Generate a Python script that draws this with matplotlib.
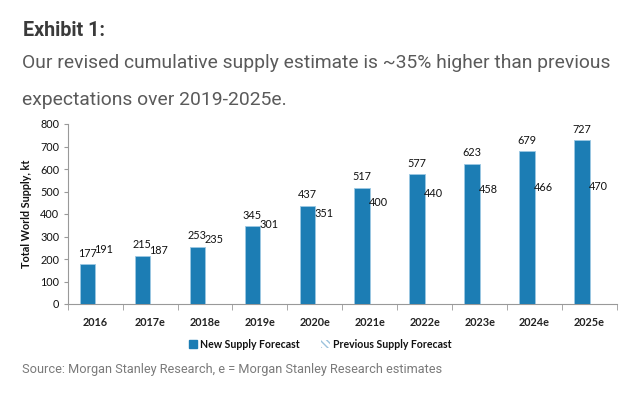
import matplotlib
matplotlib.use("Agg")
import matplotlib.pyplot as plt
from matplotlib.patches import Patch
import numpy as np

categories = ["2016", "2017e", "2018e", "2019e", "2020e", "2021e", "2022e", "2023e", "2024e", "2025e"]
new_supply = [177, 215, 253, 345, 437, 517, 577, 623, 679, 727]
prev_supply = [191, 187, 235, 301, 351, 400, 440, 458, 466, 470]
yticks = [0, 100, 200, 300, 400, 500, 600, 700, 800]

BLUE = "#1C7DB4"
chart_font = ["Lato", "DejaVu Sans"]

fig = plt.figure(figsize=(6.29, 3.98), dpi=100)
fig.patch.set_facecolor("white")

fig.text(23/629, 1-31/398, "Exhibit 1:", family="Roboto", fontweight="bold",
         fontsize=14.2, color="#3a3a3a", va="center", ha="left")
fig.text(22/629, 1-63/398, "Our revised cumulative supply estimate is ~35% higher than previous",
         family="Roboto", fontweight="normal", fontsize=13.9, color="#5a5a5a", va="center", ha="left")
fig.text(22/629, 1-100/398, "expectations over 2019-2025e.",
         family="Roboto", fontweight="normal", fontsize=13.9, color="#5a5a5a", va="center", ha="left")
fig.text(22/629, 1-370/398, "Source: Morgan Stanley Research, e = Morgan Stanley Research estimates",
         family="Roboto", fontsize=9.2, color="#7a7a7a", va="center", ha="left")

ax = fig.add_axes([67.7/629, 1-304/398, (617-67.7)/629, (304-124)/398])
x = np.arange(len(categories))
w = 0.28
ax.bar(x - w/2, new_supply, width=w, color=BLUE, edgecolor="#9cc8e3", linewidth=0.6, zorder=3)
ax.bar(x + w/2, prev_supply, width=w, color="none", edgecolor="none", zorder=2)

for xi, v in zip(x, new_supply):
    ax.annotate(str(v), (xi - w/2, v), xytext=(0, 8), textcoords="offset points",
                ha="center", va="center", fontsize=7.8, family=chart_font, color="#111111")
for xi, v in zip(x, prev_supply):
    ax.annotate(str(v), (xi + w/2 + 0.02, v), xytext=(0, 8.5), textcoords="offset points",
                ha="center", va="center", fontsize=7.8, family=chart_font, color="#111111")

ax.set_xlim(-0.5, len(categories) - 0.5)
ax.set_ylim(0, 800)
ax.set_yticks(yticks)
ax.set_yticklabels([str(t) for t in yticks], family=chart_font, fontsize=7.8, color="#111111")
ax.set_xticks(x)
ax.set_xticklabels(categories, family=chart_font, fontsize=7.8, fontweight="bold", color="#222222")
ax.set_xticks(np.arange(-0.5, len(categories), 1.0), minor=True)
ax.tick_params(axis="x", which="major", length=0, pad=9)
ax.tick_params(axis="x", which="minor", length=4, color="#999999", direction="out")
ax.tick_params(axis="y", length=3, color="#999999", direction="out", pad=3)

for s in ["top", "right"]:
    ax.spines[s].set_visible(False)
ax.spines["left"].set_color("#999999")
ax.spines["bottom"].set_color("#999999")
ax.spines["left"].set_linewidth(0.8)
ax.spines["bottom"].set_linewidth(0.8)

ax.set_ylabel("Total World Supply, kt", family=chart_font, fontsize=7.8, fontweight="bold",
              color="#111111", labelpad=6)

handles = [Patch(facecolor=BLUE, edgecolor=BLUE, label="New Supply Forecast"),
           Patch(facecolor="white", edgecolor="#9cc2dc", hatch="\\\\\\\\\\", linewidth=0,
                 label="Previous Supply Forecast")]
leg = fig.legend(handles=handles, loc="center", bbox_to_anchor=(320/629, 1-344/398), ncol=2,
                 frameon=False, prop={"family": chart_font, "size": 7.6, "weight": "bold"},
                 handlelength=0.8, handleheight=0.8, handletextpad=0.3, columnspacing=2.0)
for t in leg.get_texts():
    t.set_color("#111111")

fig.savefig("out.png", dpi=100, facecolor="white")
